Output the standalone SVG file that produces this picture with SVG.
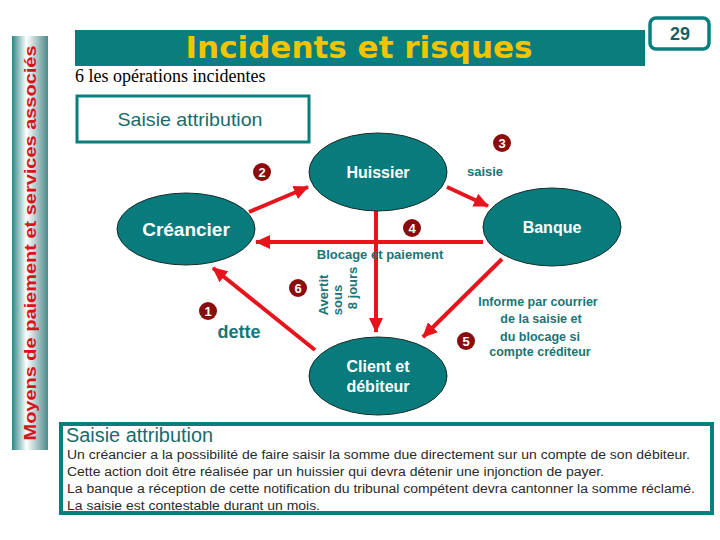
<svg xmlns="http://www.w3.org/2000/svg" width="720" height="540" viewBox="0 0 720 540">
<style>
.node{fill:#087c7c;stroke:#1a2a2a;stroke-width:1}
.nt{fill:#ffffff;font-family:"Liberation Sans",Arial,sans-serif;font-weight:bold;text-anchor:middle}
.lbl{fill:#1a7575;font-family:"Liberation Sans",Arial,sans-serif;font-weight:bold;text-anchor:middle}
.edge{stroke:#e8141c;stroke-width:4;fill:none}
.badge circle{fill:#8a0c0c}
.badge text{fill:#ffffff;font-family:"Liberation Sans",Arial,sans-serif;font-weight:bold;font-size:13px;text-anchor:middle}
.body{fill:#2a2a2a;font-family:"Liberation Sans",Arial,sans-serif;font-size:12.5px}
</style>
<defs>
<marker id="ah" markerUnits="userSpaceOnUse" markerWidth="16" markerHeight="14" refX="14" refY="7" orient="auto">
<path d="M0,0 L15,7 L0,14 Z" fill="#e8141c"/>
</marker>
<linearGradient id="bar" x1="0" y1="0" x2="1" y2="0">
<stop offset="0" stop-color="#2f8585"/>
<stop offset="0.4" stop-color="#ffffff"/>
<stop offset="1" stop-color="#4e8a8a"/>
</linearGradient>
</defs>
<rect width="720" height="540" fill="#ffffff"/>

<g id="sidebar">
<rect x="12" y="36" width="36" height="414" fill="url(#bar)"/>
<text transform="translate(36,243) rotate(-90)" text-anchor="middle" font-family="Liberation Sans,Arial,sans-serif" font-weight="bold" font-size="16.5" fill="#d4161c" textLength="395" lengthAdjust="spacingAndGlyphs">Moyens de paiement et services associés</text>
</g>

<g id="title">
<rect x="75" y="30" width="570" height="36" fill="#0a7d7d"/>
<text x="359" y="58" text-anchor="middle" font-family="DejaVu Sans,Verdana,sans-serif" font-weight="bold" font-size="31" fill="#f2c400" textLength="347" lengthAdjust="spacingAndGlyphs">Incidents et risques</text>
</g>

<g id="pagenum">
<rect x="650" y="18" width="59" height="31" rx="6" fill="#ffffff" stroke="#0a7d7d" stroke-width="3.5"/>
<text x="680" y="40" text-anchor="middle" font-family="Liberation Sans,Arial,sans-serif" font-weight="bold" font-size="18" fill="#1a5f5f">29</text>
</g>

<text x="75" y="82" font-family="Liberation Serif,Times New Roman,serif" font-size="18" fill="#000000">6 les opérations incidentes</text>

<g id="topbox">
<rect x="77" y="96" width="232" height="46" fill="#ffffff" stroke="#0a7d7d" stroke-width="3"/>
<text x="190" y="126" text-anchor="middle" font-family="Liberation Sans,Arial,sans-serif" font-size="19" fill="#1a6b6b" textLength="145" lengthAdjust="spacingAndGlyphs">Saisie attribution</text>
</g>

<g id="connectors">
<line class="edge" x1="249" y1="212" x2="308" y2="187" marker-end="url(#ah)"/>
<line class="edge" x1="447" y1="187" x2="488" y2="206" marker-end="url(#ah)"/>
<line class="edge" x1="483" y1="242" x2="256" y2="242" marker-end="url(#ah)"/>
<line class="edge" x1="376" y1="211" x2="376" y2="332" marker-end="url(#ah)"/>
<line class="edge" x1="315" y1="350" x2="213" y2="268" marker-end="url(#ah)"/>
<line class="edge" x1="502" y1="259" x2="423" y2="337" marker-end="url(#ah)"/>
</g>

<g id="huissier">
<ellipse class="node" cx="378" cy="172" rx="69" ry="39"/>
<text class="nt" x="378" y="178" font-size="16">Huissier</text>
</g>
<g id="creancier">
<ellipse class="node" cx="186" cy="229" rx="69" ry="36"/>
<text class="nt" x="186" y="236" font-size="19">Créancier</text>
</g>
<g id="banque">
<ellipse class="node" cx="552" cy="227" rx="69" ry="39"/>
<text class="nt" x="552" y="233" font-size="16">Banque</text>
</g>
<g id="client">
<ellipse class="node" cx="378" cy="376" rx="69" ry="39"/>
<text class="nt" x="378" y="372" font-size="16">Client et</text>
<text class="nt" x="378" y="392" font-size="16">débiteur</text>
</g>

<g id="labels">
<text class="lbl" x="485" y="176" font-size="13">saisie</text>
<text class="lbl" x="380" y="259" font-size="13">Blocage et paiement</text>
<text class="lbl" x="239" y="338" font-size="18">dette</text>
<text class="lbl" font-size="13" transform="translate(328,295) rotate(-90)">Avertit</text>
<text class="lbl" font-size="13" transform="translate(342,300) rotate(-90)">sous</text>
<text class="lbl" font-size="13" transform="translate(357,288) rotate(-90)">8 jours</text>
<text class="lbl" x="538" y="306" font-size="12.5">Informe par courrier</text>
<text class="lbl" x="541" y="323" font-size="12.5">de la saisie et</text>
<text class="lbl" x="540" y="341" font-size="12.5">du blocage si</text>
<text class="lbl" x="540" y="356" font-size="12.5">compte créditeur</text>
</g>

<g id="badges">
<g class="badge"><circle cx="208" cy="311" r="9"/><text x="208" y="316">1</text></g>
<g class="badge"><circle cx="262" cy="172" r="9"/><text x="262" y="177">2</text></g>
<g class="badge"><circle cx="502" cy="143" r="9"/><text x="502" y="148">3</text></g>
<g class="badge"><circle cx="412" cy="228" r="9"/><text x="412" y="233">4</text></g>
<g class="badge"><circle cx="466" cy="341" r="9"/><text x="466" y="346">5</text></g>
<g class="badge"><circle cx="298" cy="288" r="9"/><text x="298" y="293">6</text></g>
</g>

<g id="bottombox">
<rect x="61" y="424" width="651" height="89" fill="#ffffff"/>
<text x="66" y="442" font-family="Liberation Sans,Arial,sans-serif" font-size="19.5" fill="#1a6b6b" textLength="147" lengthAdjust="spacingAndGlyphs">Saisie attribution</text>
<text class="body" x="67" y="459" textLength="623" lengthAdjust="spacingAndGlyphs">Un créancier a la possibilité de faire saisir la somme due directement sur un compte de son débiteur.</text>
<text class="body" x="67" y="476" textLength="537" lengthAdjust="spacingAndGlyphs">Cette action doit être réalisée par un huissier qui devra détenir une injonction de payer.</text>
<text class="body" x="67" y="493" textLength="628" lengthAdjust="spacingAndGlyphs">La banque a réception de cette notification du tribunal compétent devra cantonner la somme réclamé.</text>
<text class="body" x="67" y="510" textLength="253" lengthAdjust="spacingAndGlyphs">La saisie est contestable durant un mois.</text>
<rect x="61" y="424" width="651" height="89" fill="none" stroke="#0a7d7d" stroke-width="4"/>
</g>
</svg>
